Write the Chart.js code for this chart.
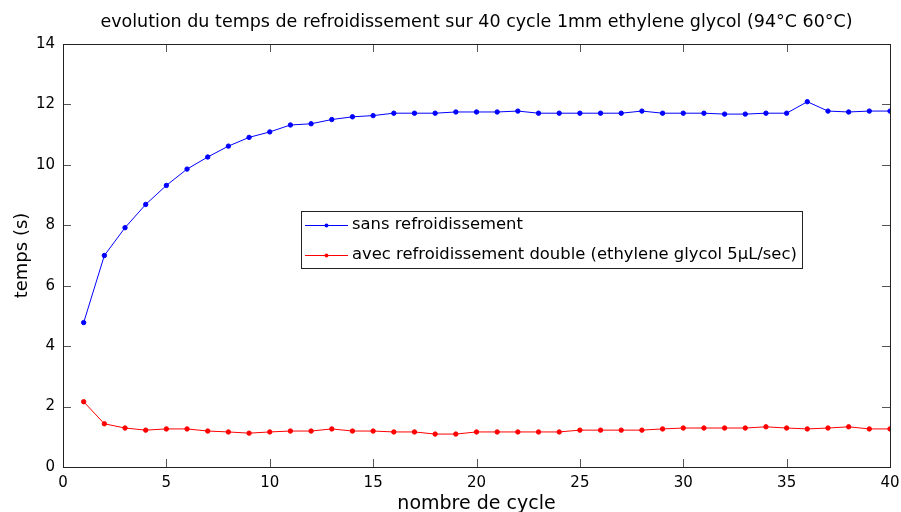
<!DOCTYPE html>
<html>
<head>
<meta charset="utf-8">
<script src="https://cdn.jsdelivr.net/npm/chart.js@4/dist/chart.umd.min.js"></script>
<style>
  html, body { margin: 0; padding: 0; background: #fff; }
  #wrap { width: 901px; height: 512px; }
</style>
</head>
<body>
<div id="wrap"><canvas id="chart"></canvas></div>
<script>
  // data
  const cycles = [1,2,3,4,5,6,7,8,9,10,11,12,13,14,15,16,17,18,19,20,
                  21,22,23,24,25,26,27,28,29,30,31,32,33,34,35,36,37,38,39,40];
  const sansRefroid = [4.78,7.00,7.92,8.69,9.32,9.86,10.26,10.62,10.91,11.09,
                       11.32,11.36,11.50,11.59,11.63,11.71,11.71,11.71,11.75,11.75,
                       11.75,11.78,11.71,11.71,11.71,11.71,11.71,11.78,11.71,11.71,
                       11.71,11.68,11.68,11.71,11.71,12.09,11.78,11.75,11.78,11.78];
  const avecRefroid = [2.16,1.43,1.29,1.22,1.26,1.26,1.19,1.16,1.12,1.16,
                       1.19,1.19,1.26,1.19,1.19,1.16,1.16,1.09,1.09,1.16,
                       1.16,1.16,1.16,1.16,1.22,1.22,1.22,1.22,1.26,1.29,
                       1.29,1.29,1.29,1.33,1.29,1.26,1.29,1.33,1.26,1.26];
  const seriesLabels = ['sans refroidissement', 'avec refroidissement double (ethylene glycol 5\u00b5L/sec)'];
  const titleText = 'evolution du temps de refroidissement sur 40 cycle 1mm ethylene glycol (94\u00b0C 60\u00b0C)';

  const FONT = '"DejaVu Sans", sans-serif';

  // title centred over the plot area (not the canvas), as matlab does
  const titlePlugin = {
    id: 'plotTitle',
    afterDraw(chart) {
      const { ctx, chartArea: a } = chart;
      ctx.save();
      ctx.font = '17.5px ' + FONT;
      ctx.fillStyle = '#000';
      ctx.textAlign = 'center';
      ctx.textBaseline = 'middle';
      ctx.fillText(titleText, (a.left + a.right) / 2, 22);
      ctx.restore();
    }
  };

  // matlab style box with inward ticks on all four sides
  const framePlugin = {
    id: 'frame',
    afterDraw(chart) {
      const { ctx, chartArea: a, scales } = chart;
      const len = 8;
      ctx.save();
      ctx.strokeStyle = '#555';
      ctx.lineWidth = 1;
      ctx.beginPath();
      scales.x.ticks.forEach(t => {
        const px = Math.round(scales.x.getPixelForValue(t.value)) + 0.5;
        ctx.moveTo(px, a.bottom); ctx.lineTo(px, a.bottom - len);
        ctx.moveTo(px, a.top); ctx.lineTo(px, a.top + len);
      });
      scales.y.ticks.forEach(t => {
        const py = Math.round(scales.y.getPixelForValue(t.value)) + 0.5;
        ctx.moveTo(a.left, py); ctx.lineTo(a.left + len, py);
        ctx.moveTo(a.right, py); ctx.lineTo(a.right - len, py);
      });
      ctx.stroke();
      ctx.strokeStyle = '#222';
      ctx.strokeRect(Math.round(a.left) + 0.5, Math.round(a.top) + 0.5,
                     Math.round(a.right - a.left), Math.round(a.bottom - a.top));
      ctx.restore();
    }
  };

  // legend box inside the plot, like the original figure
  const legendPlugin = {
    id: 'boxLegend',
    afterDraw(chart) {
      const { ctx, chartArea: a } = chart;
      const x0 = a.left + 238, y0 = a.top + 167, w = 501, h = 57;
      ctx.save();
      ctx.fillStyle = '#fff';
      ctx.fillRect(x0, y0, w, h);
      ctx.strokeStyle = '#222';
      ctx.lineWidth = 1;
      ctx.strokeRect(x0 + 0.5, y0 + 0.5, w, h);
      ctx.font = '16.4px ' + FONT;
      ctx.textBaseline = 'middle';
      chart.data.datasets.forEach((ds, i) => {
        const yy = y0 + 14 + i * 30;
        ctx.strokeStyle = ds.borderColor;
        ctx.beginPath();
        ctx.moveTo(x0 + 4, yy + 0.5); ctx.lineTo(x0 + 47, yy + 0.5);
        ctx.stroke();
        ctx.fillStyle = ds.borderColor;
        ctx.beginPath();
        ctx.arc(x0 + 25.5, yy + 0.5, 2, 0, Math.PI * 2);
        ctx.fill();
        ctx.fillStyle = '#000';
        ctx.fillText(ds.label, x0 + 51, yy);
      });
      ctx.restore();
    }
  };

  const ctx = document.getElementById('chart').getContext('2d');
  const chart = new Chart(ctx, {
    type: 'line',
    data: {
      labels: cycles,
      datasets: [{
        label: seriesLabels[0],
        data: cycles.map((c, i) => ({ x: c, y: sansRefroid[i] })),
        borderColor: '#0000ff',
        backgroundColor: '#0000ff',
        borderWidth: 1,
        pointRadius: 2.2,
        pointStyle: 'circle',
        tension: 0
      }, {
        label: seriesLabels[1],
        data: cycles.map((c, i) => ({ x: c, y: avecRefroid[i] })),
        borderColor: '#ff0000',
        backgroundColor: '#ff0000',
        borderWidth: 1,
        pointRadius: 2.2,
        pointStyle: 'circle',
        tension: 0
      }]
    },
    options: {
      responsive: true,
      maintainAspectRatio: false,
      animation: false,
      devicePixelRatio: 1,
      layout: { padding: { left: 0, right: 0, top: 44, bottom: 0 } },
      plugins: {
        legend: { display: false },
        tooltip: { enabled: false },
        title: { display: false }
      },
      scales: {
        x: {
          type: 'linear',
          min: 0, max: 40,
          ticks: { stepSize: 5, color: '#000', padding: 7, font: { family: FONT, size: 15 } },
          grid: { display: false, drawTicks: false },
          border: { display: false },
          title: { display: true, text: 'nombre de cycle', color: '#000',
                   font: { family: FONT, size: 19, lineHeight: 1 }, padding: { top: 0, bottom: -2 } },
          afterFit(s) { s.height = 45; s.paddingLeft = 0; s.paddingRight = 11; }
        },
        y: {
          min: 0, max: 14,
          ticks: { stepSize: 2, color: '#000', padding: 8, font: { family: FONT, size: 15 } },
          grid: { display: false, drawTicks: false },
          border: { display: false },
          title: { display: true, text: 'temps (s)', color: '#000',
                   font: { family: FONT, size: 18 }, padding: { top: 12, bottom: 0 } },
          afterFit(s) { s.width = 63; }
        }
      }
    },
    plugins: [framePlugin, legendPlugin, titlePlugin]
  });
</script>
</body>
</html>
